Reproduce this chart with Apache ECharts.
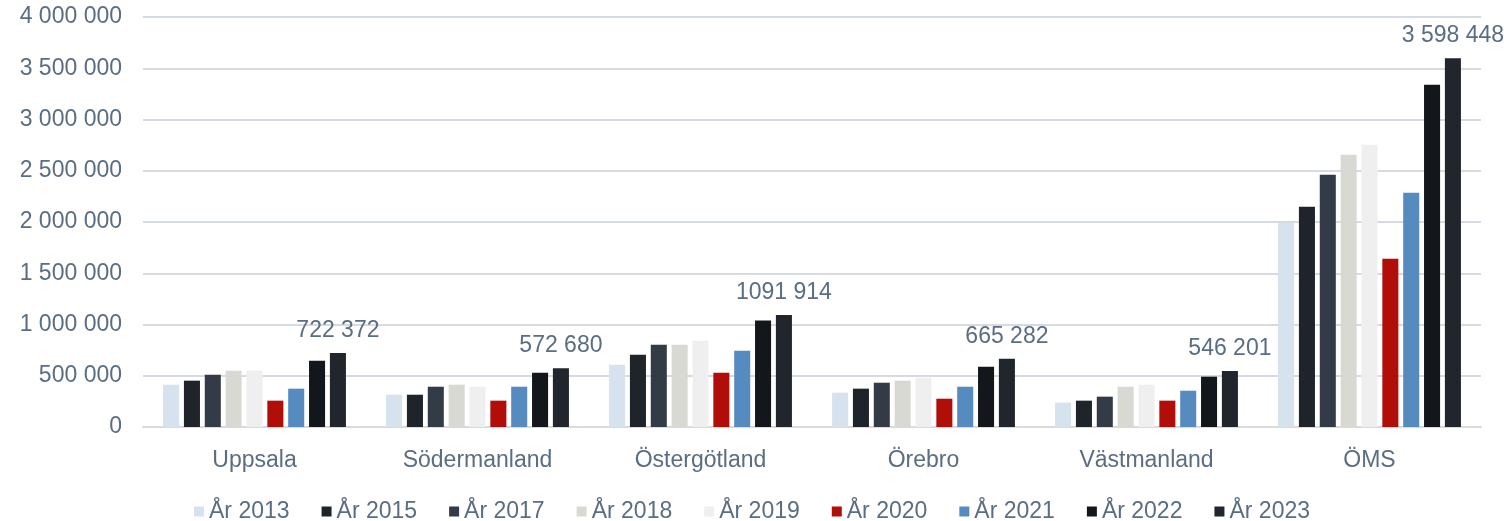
<!DOCTYPE html>
<html>
<head>
<meta charset="utf-8">
<script src="https://cdn.jsdelivr.net/npm/echarts@6/dist/echarts.min.js"></script>
<style>
  html, body { margin: 0; padding: 0; background: #fff; }
  #chart { width: 1504px; height: 521px; }
</style>
</head>
<body>
<div id="chart"></div>
<script>
  // regioner (kategorier)
  const categories = ['Uppsala', 'Södermanland', 'Östergötland', 'Örebro', 'Västmanland', 'ÖMS']
  const years = ['År 2013', 'År 2015', 'År 2017', 'År 2018', 'År 2019', 'År 2020', 'År 2021', 'År 2022', 'År 2023']

  // värden per år
  const y2013 = [413000, 315000, 608000, 335000, 237000, 1990000]
  const y2015 = [452000, 315000, 706000, 374000, 257000, 2150000]
  const y2017 = [510000, 393000, 803000, 432000, 296000, 2461000]
  const y2018 = [549000, 413000, 803000, 452000, 393000, 2656000]
  const y2019 = [552000, 393000, 842000, 480000, 413000, 2754000]
  const y2020 = [257000, 257000, 530000, 276000, 257000, 1642000]
  const y2021 = [374000, 393000, 745000, 393000, 354000, 2286000]
  const y2022 = [647000, 530000, 1038000, 589000, 491000, 3340000]
  const y2023 = [722372, 572680, 1091914, 665282, 546201, 3598448]
  const labels2023 = ['722 372', '572 680', '1091 914', '665 282', '546 201', '3 598 448']

  const yTicks = { min: 0, max: 4000000, interval: 500000 }

  const allValues = [y2013, y2015, y2017, y2018, y2019, y2020, y2021, y2022, y2023]
  const colors = ['#D6E2EE', '#1F242B', '#333C46', '#D9D9D4', '#EFEFEF', '#B10E09', '#558BBE', '#13171B', '#21252C']

  const textColor = '#5A6D82'
  const fontFamily = '"Liberation Sans", Arial, sans-serif'

  // tusentalsavgränsare med mellanslag
  function fmt(v) {
    return String(v).replace(/\B(?=(\d{3})+(?!\d))/g, ' ')
  }

  const chart = echarts.init(document.getElementById('chart'))

  const series = years.map((name, i) => {
    const s = {
      name: name,
      type: 'bar',
      data: allValues[i],
      itemStyle: { color: colors[i] },
      barGap: '30%',
      barCategoryGap: '18%'
    }
    if (i === years.length - 1) {
      s.label = {
        show: true,
        position: 'top',
        distance: 11,
        color: textColor,
        fontSize: 23,
        fontFamily: fontFamily,
        formatter: (p) => labels2023[p.dataIndex]
      }
    }
    return s
  })

  chart.setOption({
    animation: false,
    color: colors,
    grid: { left: 143, right: 23, top: 17, bottom: 94 },
    legend: {
      top: 495,
      left: 'center',
      icon: 'rect',
      itemWidth: 10,
      itemHeight: 10,
      itemGap: 32,
      textStyle: { color: textColor, fontSize: 23, fontFamily: fontFamily },
      data: years
    },
    xAxis: {
      type: 'category',
      data: categories,
      axisTick: { show: false },
      axisLine: { lineStyle: { color: '#D5DAE3', width: 2 } },
      axisLabel: { color: textColor, fontSize: 23, fontFamily: fontFamily, margin: 22 }
    },
    yAxis: {
      type: 'value',
      min: yTicks.min,
      max: yTicks.max,
      interval: yTicks.interval,
      axisLine: { show: false },
      axisTick: { show: false },
      splitLine: { lineStyle: { color: '#D5DAE3', width: 2 } },
      axisLabel: { color: textColor, fontSize: 23, fontFamily: fontFamily, margin: 21, formatter: fmt }
    },
    series: series
  })
</script>
</body>
</html>
